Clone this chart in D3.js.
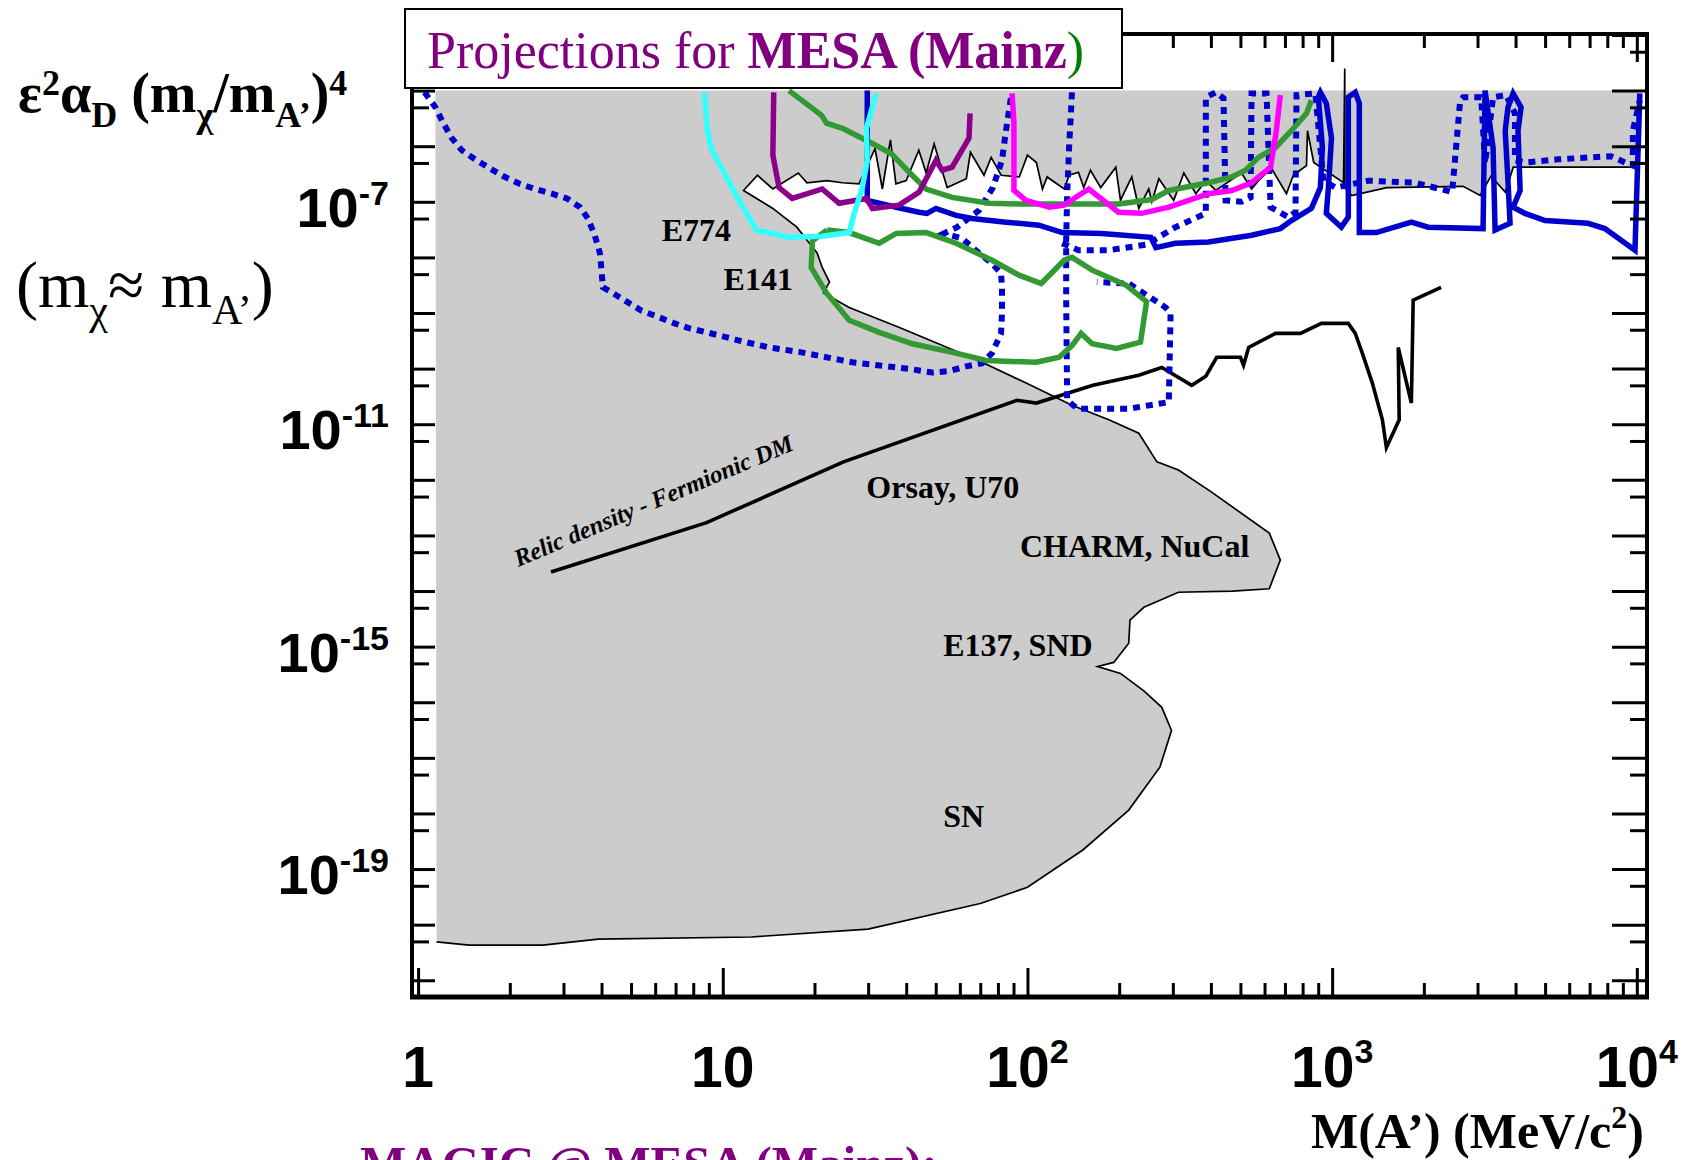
<!DOCTYPE html>
<html>
<head>
<meta charset="utf-8">
<script src="https://cdn.jsdelivr.net/npm/d3@7"></script>
<style>
  body { margin: 0; background: #fff; }
  svg { display: block; }
  .serif { font-family: "Liberation Serif", "Times New Roman", serif; }
  .sans { font-family: "Liberation Sans", Arial, Helvetica, sans-serif; }
</style>
</head>
<body>
<svg id="chart" width="1682" height="1160"></svg>
<script>
// ---- data: [mass in MeV/c^2, eps^2 alpha_D (m_chi/m_A')^4] ----
var xMajor = [1, 10, 100, 1000, 10000];
var xTickBase = ['1', '10', '10', '10', '10'];
var xTickExp = ['', '', '2', '3', '4'];

var yMajor = [1e-21, 1e-20, 1e-19, 1e-18, 1e-17, 1e-16, 1e-15, 1e-14, 1e-13,
              1e-12, 1e-11, 1e-10, 1e-9, 1e-8, 1e-7, 1e-6, 1e-5, 1e-4];
var yMinor = [5e-22, 5e-21, 5e-20, 5e-19, 5e-18, 5e-17, 5e-16, 5e-15, 5e-14,
              5e-13, 5e-12, 5e-11, 5e-10, 5e-9, 5e-8, 5e-7, 5e-6, 5e-5];
var yLabelValues = [1e-7, 1e-11, 1e-15, 1e-19];
var yLabelExp = ['-7', '-11', '-15', '-19'];

// existing limits (grey area), traced from the right edge going left and down
var excludedTop = [[1.14, 1e-5], [10070, 1e-5]];
var excludedBoundary = [
  [10070, 4.2e-7], [3930, 4.2e-7], [3700, 1.5e-7], [3320, 2.9e-7], [3060, 1.3e-7],
  [2690, 1.9e-7], [1510, 1.8e-7], [1160, 1.3e-7], [1100, 1.8e-7], [1100, 2.5e-5],
  [1090, 2.2e-7], [870, 5.1e-7], [830, 1.9e-6], [824, 4.5e-7], [746, 3.0e-7],
  [708, 1.4e-7], [632, 4.0e-7], [573, 2.4e-7], [544, 1.7e-7], [504, 3.3e-7],
  [415, 1.6e-7], [385, 2.4e-7], [357, 1.4e-7], [326, 3.3e-7], [302, 1.06e-7],
  [270, 2.6e-7], [256, 1.0e-7], [250, 1.7e-7], [232, 7.6e-8], [220, 2.8e-7],
  [202, 1.06e-7], [195, 4.2e-7], [174, 1.8e-7], [161, 3.7e-7], [153, 1.8e-7],
  [147, 3.4e-7], [137, 3.0e-7], [132, 1.7e-7], [116, 2.8e-7], [112, 1.7e-7],
  [107, 5.1e-7], [100, 6.9e-7], [94, 2.8e-7], [82, 3.0e-7], [76, 6.3e-7],
  [72, 3.0e-7], [65, 7.8e-7], [63, 2.6e-7], [54.5, 1.8e-7], [49.4, 1.1e-6],
  [46.5, 3.3e-7], [44, 8.5e-7], [40, 2.4e-7], [37, 2.1e-7], [35.5, 1.3e-6],
  [33.4, 1.7e-7], [31.6, 9.1e-7], [28, 2.1e-7], [24.7, 2.2e-7], [22, 2.4e-7],
  [18.9, 2.2e-7], [17.7, 3.3e-7], [14.6, 1.7e-7], [13, 3.0e-7], [11.7, 1.6e-7],
  [14.6, 7.6e-8], [17.5, 3.5e-8], [20.4, 1.2e-8], [21.2, 6.6e-9], [22.4, 3.6e-9],
  [21.4, 2.3e-9], [26, 1.26e-9], [38, 5.5e-10], [51, 2.8e-10], [69, 1.4e-10],
  [99, 5.5e-11], [140, 2.2e-11], [185, 1.2e-11], [232, 6.9e-12], [266, 2.1e-12],
  [313, 1.5e-12], [399, 6.2e-13], [622, 1.1e-13], [676, 3.6e-14], [622, 1.1e-14],
  [471, 1.0e-14], [313, 9.5e-15], [282, 7.4e-15], [241, 5.1e-15], [217, 3.0e-15],
  [215, 1.15e-15], [192, 5.2e-16], [170, 4.4e-16], [202, 3.3e-16], [241, 1.6e-16],
  [276, 8.1e-17], [297, 3.1e-17], [272, 6.8e-18], [215, 1.15e-18], [152, 2.2e-19],
  [100, 4.7e-20], [70, 2.4e-20], [30, 8.3e-21], [12.4, 6.0e-21], [3.9, 5.5e-21],
  [2.57, 4.3e-21], [1.47, 4.3e-21], [1.15, 4.9e-21]
];

var relicDensity = [
  [2.73, 2.2e-14], [8.85, 1.7e-13], [24.9, 2.1e-12], [92.4, 2.7e-11], [107, 2.4e-11],
  [164, 5.0e-11], [232, 7.6e-11], [276, 1.05e-10], [346, 5.0e-11], [385, 7.3e-11],
  [418, 1.6e-10], [500, 1.6e-10], [512, 1.15e-10], [532, 2.4e-10], [652, 4.3e-10],
  [787, 4.3e-10], [922, 6.5e-10], [1130, 6.5e-10], [1191, 4.3e-10], [1256, 1.9e-10],
  [1355, 5.5e-11], [1462, 1.2e-11], [1507, 3.8e-12], [1660, 1.2e-11], [1648, 2.4e-10],
  [1820, 2.4e-11], [1845, 1.7e-9], [2278, 2.9e-9]
];

var dashedBlueA = [
  [1.05, 9.3e-6], [1.14, 5.0e-6], [1.21, 2.6e-6], [1.29, 1.4e-6], [1.39, 8.5e-7],
  [1.54, 5.8e-7], [1.72, 4.0e-7], [1.90, 2.9e-7], [2.16, 2.1e-7], [2.42, 1.7e-7],
  [2.75, 1.4e-7], [3.08, 1.15e-7], [3.40, 8.0e-8], [3.61, 5.0e-8], [3.80, 2.5e-8],
  [3.95, 1.2e-8], [4.0, 5.9e-9], [4.04, 2.9e-9], [4.35, 2.3e-9], [4.84, 1.6e-9],
  [5.42, 1.1e-9], [6.21, 8.3e-10], [6.95, 6.5e-10], [7.78, 5.3e-10], [8.85, 4.5e-10],
  [10, 3.8e-10], [11.3, 3.2e-10], [14.2, 2.4e-10], [17.8, 2.0e-10], [21.9, 1.6e-10],
  [26.6, 1.3e-10], [34.4, 1.1e-10], [41.9, 9.7e-11], [48.7, 8.5e-11], [55.3, 9.0e-11],
  [62.9, 1.1e-10], [71, 1.25e-10], [76.5, 1.9e-10], [81.9, 4.3e-10], [82.5, 9.8e-10],
  [82.5, 2.9e-9], [81.9, 5.2e-9], [76.5, 7.8e-9], [69.3, 1.2e-8], [61, 2.2e-8],
  [53.2, 2.7e-8], [58.8, 3.5e-8], [69.3, 7.0e-8], [77, 1.8e-7], [82.5, 5.6e-7],
  [85, 1.9e-6], [88.3, 7.6e-6]
];
var dashedBlueB = [
  [140, 9.3e-6], [137, 9.5e-7], [135, 1.4e-7], [134, 2.0e-8], [134, 1.7e-9],
  [135, 2.7e-11], [146, 1.9e-11], [215, 1.9e-11], [291, 2.5e-11], [295, 9.8e-10],
  [284, 1.26e-9], [215, 3.4e-9], [169, 3.6e-9]
];
var dashedBlueC = [
  [130, 1.8e-8], [147, 1.35e-8], [185, 1.35e-8], [246, 1.7e-8], [306, 3.5e-8],
  [385, 6.2e-8], [385, 7.6e-6], [415, 9.3e-6], [440, 7.3e-6], [447, 1.06e-7],
  [504, 1.0e-7], [540, 1.2e-7], [544, 8.9e-6], [609, 8.9e-6], [628, 8.0e-8],
  [719, 5.3e-8], [758, 6.5e-8], [764, 8.3e-6], [881, 8.9e-6], [936, 2.4e-7],
  [1025, 1.8e-7], [1315, 2.4e-7], [1875, 2.2e-7], [2477, 1.5e-7], [2632, 6.7e-6],
  [2692, 7.6e-6], [3084, 7.6e-6], [3176, 4.9e-7], [3374, 7.6e-6], [3724, 8.3e-6],
  [3981, 3.9e-6], [3981, 5.6e-7], [4295, 5.1e-7], [5508, 5.8e-7], [7063, 6.3e-7],
  [8222, 6.6e-7], [9141, 5.1e-7], [9705, 4.5e-7], [9705, 1.9e-6], [10230, 6.7e-6]
];

var solidBlue = [
  [29.8, 1.0e-5], [29.8, 1.06e-7], [37.1, 8.0e-8], [44.1, 6.5e-8], [46.8, 6.2e-8],
  [50.1, 7.6e-8], [58.3, 5.7e-8], [65.8, 5.0e-8], [85, 4.3e-8], [109, 3.8e-8],
  [130, 2.8e-8], [175, 2.7e-8], [254, 2.3e-8], [264, 1.5e-8], [306, 1.8e-8],
  [393, 1.9e-8], [544, 2.5e-8], [676, 3.3e-8], [735, 4.6e-8], [855, 7.6e-8],
  [915, 1.8e-7], [929, 9.5e-7], [901, 7.6e-6], [915, 9.3e-6], [957, 5.9e-6],
  [995, 1.4e-6], [972, 1.8e-7], [957, 6.2e-8], [1072, 3.5e-8], [1130, 5.3e-8],
  [1130, 7.6e-6], [1191, 9.3e-6], [1228, 5.9e-6], [1228, 2.8e-8], [1396, 2.8e-8],
  [1820, 4.3e-8], [2067, 3.5e-8], [3129, 3.3e-8], [3176, 1.0e-5], [3374, 9.5e-7],
  [3426, 3.1e-8], [3837, 4.1e-8], [3776, 2.4e-7], [3698, 1.9e-6], [3776, 5.0e-6],
  [3926, 8.9e-6], [4169, 5.0e-6], [4074, 1.9e-6], [4140, 1.6e-7], [3926, 8.0e-8],
  [4295, 6.2e-8], [5000, 4.6e-8], [6918, 4.1e-8], [7852, 3.3e-8], [9862, 1.35e-8],
  [10230, 8.9e-6]
];

var cyanCurve = [
  [8.7, 9.3e-6], [8.9, 1.9e-6], [9.2, 8.5e-7], [10, 3.7e-7], [11.3, 1.06e-7],
  [12.9, 3.1e-8], [16.5, 2.3e-8], [21.2, 2.4e-8], [26, 2.8e-8], [27, 6.2e-8],
  [28.7, 1.8e-7], [29.8, 5.6e-7], [29.6, 2.1e-6], [31.9, 8.9e-6]
];

var purpleCurve = [
  [14.7, 9.3e-6], [14.6, 6.9e-7], [15.3, 1.8e-7], [16.9, 1.15e-7], [21.2, 1.7e-7],
  [24.1, 9.4e-8], [29.6, 1.15e-7], [31, 7.6e-8], [37.9, 8.7e-8], [44.1, 1.5e-7],
  [50.1, 5.6e-7], [52.5, 3.7e-7], [56.6, 4.2e-7], [64.3, 1.4e-6], [64.8, 3.9e-6]
];

var greenUpper = [
  [16.5, 1.0e-5], [21.1, 3.6e-6], [21.9, 2.6e-6], [24.7, 2.1e-6], [30.2, 1.2e-6],
  [35.7, 7.4e-7], [40.9, 3.4e-7], [46.5, 1.7e-7], [56.6, 1.2e-7], [74.8, 9.4e-8],
  [95.9, 9.1e-8], [199, 9.1e-8], [256, 1.1e-7], [291, 1.6e-7], [393, 2.2e-7],
  [468, 2.8e-7], [520, 3.7e-7], [573, 6.3e-7], [652, 9.5e-7], [735, 1.9e-6],
  [824, 3.9e-6], [855, 6.7e-6]
];

var greenLoop = [
  [22, 3.1e-8], [26, 2.8e-8], [32.6, 1.8e-8], [37.1, 2.7e-8], [46.5, 2.8e-8],
  [58.3, 1.8e-8], [76.5, 8.9e-9], [93.8, 4.8e-9], [111, 3.4e-9], [132, 8.9e-9],
  [140, 1.0e-8], [163, 5.9e-9], [210, 3.2e-9], [246, 1.6e-9], [235, 3.0e-10],
  [196, 2.3e-10], [163, 2.8e-10], [150, 4.3e-10], [140, 2.6e-10], [127, 1.6e-10],
  [107, 1.3e-10], [73.1, 1.4e-10], [58.3, 1.9e-10], [41.9, 2.8e-10], [32.6, 4.5e-10],
  [26, 7.4e-10], [21.9, 2.3e-9], [19.5, 6.6e-9], [19.7, 2.0e-8], [22, 3.1e-8]
];

var magentaCurve = [
  [89, 8.9e-6], [90.3, 2.6e-6], [90.3, 1.6e-7], [98.9, 1.06e-7], [118, 8.0e-8],
  [132, 8.7e-8], [147, 1.3e-7], [159, 1.7e-7], [199, 6.5e-8], [237, 6.2e-8],
  [291, 8.0e-8], [393, 1.4e-7], [468, 1.6e-7], [544, 2.2e-7], [628, 4.2e-7],
  [656, 1.9e-6], [676, 8.3e-6]
];

var regionNames = ['E774', 'E141', 'Orsay, U70', 'CHARM, NuCal', 'E137, SND', 'SN'];
var regionAt = [[6.3, 2.0e-8], [10.06, 2.6e-9], [29.6, 4.8e-13], [94.5, 4.1e-14], [52.9, 6.9e-16], [52.9, 5.6e-19]];
var relicLabel = 'Relic density - Fermionic DM';
var relicLabelAt = [2.13, 2.7e-14];

// ---- scales ----
var padLeft = 412, padRight = 1647, padTop = 35, padBottom = 997;

var x = d3.scaleLog().domain([0.955, 10800]).range([padLeft, padRight]);
var y = d3.scaleLog().domain([5e-22, 1e-4]).range([padBottom, padTop]);

var svg = d3.select('#chart');

svg.append('defs').append('clipPath')
    .attr('id', 'plotClip')
    .append('rect')
    .attr('x', padLeft).attr('y', padTop)
    .attr('width', padRight - padLeft).attr('height', padBottom - padTop);

var plot = svg.append('g').attr('clip-path', 'url(#plotClip)');

var line = d3.line()
    .x(d => x(d[0]))
    .y(d => y(d[1]));

// grey excluded region
plot.append('path')
    .attr('d', line(excludedTop.concat(excludedBoundary)) + 'Z')
    .attr('fill', '#cccccc')
    .attr('stroke', 'none');

plot.append('path')
    .attr('d', line(excludedBoundary))
    .attr('fill', 'none')
    .attr('stroke', '#000')
    .attr('stroke-width', 1.7)
    .attr('stroke-linejoin', 'miter');

plot.append('path')
    .attr('d', line(relicDensity))
    .attr('fill', 'none')
    .attr('stroke', '#000')
    .attr('stroke-width', 3.6);

var dashed = [dashedBlueA, dashedBlueB, dashedBlueC];
plot.selectAll('.dashed')
    .data(dashed)
    .enter()
    .append('path')
    .classed('dashed', true)
    .attr('d', d => line(d))
    .attr('fill', 'none')
    .attr('stroke', '#0000cc')
    .attr('stroke-width', 6)
    .attr('stroke-dasharray', '7,6');

var curves = [
    {pts: greenUpper, color: '#339933'},
    {pts: greenLoop, color: '#339933'},
    {pts: solidBlue, color: '#0000cc'},
    {pts: magentaCurve, color: '#ff00ff'},
    {pts: purpleCurve, color: '#8b008b'},
    {pts: cyanCurve, color: '#33ffff'}
];
plot.selectAll('.curve')
    .data(curves)
    .enter()
    .append('path')
    .classed('curve', true)
    .attr('d', d => line(d.pts))
    .attr('fill', 'none')
    .attr('stroke', d => d.color)
    .attr('stroke-width', 5.5)
    .attr('stroke-linejoin', 'miter')
    .attr('stroke-miterlimit', 3);

// region labels
plot.selectAll('.region')
    .data(regionNames)
    .enter()
    .append('text')
    .attr('class', 'serif')
    .attr('x', (d, i) => x(regionAt[i][0]))
    .attr('y', (d, i) => y(regionAt[i][1]))
    .attr('font-size', 32)
    .attr('font-weight', 'bold')
    .text(d => d);

plot.append('text')
    .attr('class', 'serif')
    .attr('transform', 'translate(' + x(relicLabelAt[0]) + ',' + y(relicLabelAt[1]) + ') rotate(-23)')
    .attr('font-size', 24.5)
    .attr('font-weight', 'bold')
    .attr('font-style', 'italic')
    .text(relicLabel);

// ---- axes (ticks inside the frame) ----
function styleAxis(g) {
    g.select('.domain').remove();
    g.selectAll('.tick line').attr('stroke', '#000').attr('stroke-width', 3);
}
var xMinor = x.ticks().filter(v => xMajor.indexOf(v) < 0);

svg.append('g').attr('transform', 'translate(0,' + padBottom + ')')
    .call(d3.axisTop(x).tickValues(xMajor).tickSize(29).tickFormat(''))
    .call(styleAxis);
svg.append('g').attr('transform', 'translate(0,' + padBottom + ')')
    .call(d3.axisTop(x).tickValues(xMinor).tickSize(14).tickFormat(''))
    .call(styleAxis);
svg.append('g').attr('transform', 'translate(0,' + padTop + ')')
    .call(d3.axisBottom(x).tickValues(xMajor).tickSize(27).tickFormat(''))
    .call(styleAxis);
svg.append('g').attr('transform', 'translate(0,' + padTop + ')')
    .call(d3.axisBottom(x).tickValues(xMinor).tickSize(13).tickFormat(''))
    .call(styleAxis);
svg.append('g').attr('transform', 'translate(' + padLeft + ',0)')
    .call(d3.axisRight(y).tickValues(yMajor).tickSize(23).tickFormat(''))
    .call(styleAxis);
svg.append('g').attr('transform', 'translate(' + padLeft + ',0)')
    .call(d3.axisRight(y).tickValues(yMinor).tickSize(17).tickFormat(''))
    .call(styleAxis);
svg.append('g').attr('transform', 'translate(' + padRight + ',0)')
    .call(d3.axisLeft(y).tickValues(yMajor).tickSize(35).tickFormat(''))
    .call(styleAxis);
svg.append('g').attr('transform', 'translate(' + padRight + ',0)')
    .call(d3.axisLeft(y).tickValues(yMinor).tickSize(17).tickFormat(''))
    .call(styleAxis);

svg.append('rect')
    .attr('x', padLeft).attr('y', padTop - 1)
    .attr('width', padRight - padLeft).attr('height', padBottom - padTop + 1)
    .attr('fill', 'none')
    .attr('stroke', '#000')
    .attr('stroke-width', 4);
svg.append('line')
    .attr('x1', padLeft - 2).attr('x2', padRight + 2)
    .attr('y1', padBottom).attr('y2', padBottom)
    .attr('stroke', '#000').attr('stroke-width', 5);

// tick labels
var xl = svg.selectAll('.xlabel')
    .data(xMajor)
    .enter()
    .append('text')
    .attr('class', 'sans')
    .attr('x', d => x(d))
    .attr('y', 1087)
    .attr('text-anchor', 'middle')
    .attr('font-size', 57)
    .attr('font-weight', 'bold');
xl.append('tspan').text((d, i) => xTickBase[i]);
xl.append('tspan')
    .attr('dy', -24)
    .attr('font-size', 34)
    .text((d, i) => xTickExp[i]);

var yl = svg.selectAll('.ylabel')
    .data(yLabelValues)
    .enter()
    .append('text')
    .attr('class', 'sans')
    .attr('x', 389)
    .attr('y', d => y(d) + 25)
    .attr('text-anchor', 'end')
    .attr('font-size', 56)
    .attr('font-weight', 'bold');
yl.append('tspan').text('10');
yl.append('tspan')
    .attr('dy', -22)
    .attr('font-size', 34)
    .text((d, i) => yLabelExp[i]);

// axis titles
var yt = svg.append('text')
    .attr('class', 'serif')
    .attr('x', 18).attr('y', 112)
    .attr('font-size', 56)
    .attr('font-weight', 'bold');
yt.append('tspan').text('\u03b5');
yt.append('tspan').attr('dy', -17).attr('font-size', 36).text('2');
yt.append('tspan').attr('dy', 17).text('\u03b1');
yt.append('tspan').attr('dy', 15).attr('font-size', 36).text('D');
yt.append('tspan').attr('dy', -15).text(' (m');
yt.append('tspan').attr('dy', 15).attr('font-size', 36).text('\u03c7');
yt.append('tspan').attr('dy', -15).text('/m');
yt.append('tspan').attr('dy', 15).attr('font-size', 36).text('A\u2019');
yt.append('tspan').attr('dy', -15).text(')');
yt.append('tspan').attr('dy', -17).attr('font-size', 36).text('4');

var yt2 = svg.append('text')
    .attr('class', 'serif')
    .attr('x', 16).attr('y', 307)
    .attr('font-size', 66);
yt2.append('tspan').text('(m');
yt2.append('tspan').attr('dy', 17).attr('font-size', 42).text('\u03c7');
yt2.append('tspan').attr('dy', -17).text('\u2248 m');
yt2.append('tspan').attr('dy', 17).attr('font-size', 42).text('A\u2019');
yt2.append('tspan').attr('dy', -17).text(')');

var xt = svg.append('text')
    .attr('class', 'serif')
    .attr('x', 1311).attr('y', 1148)
    .attr('font-size', 50)
    .attr('font-weight', 'bold');
xt.append('tspan').text('M(A\u2019) (MeV/c');
xt.append('tspan').attr('dy', -20).attr('font-size', 32).text('2');
xt.append('tspan').attr('dy', 20).text(')');

svg.append('text')
    .attr('class', 'serif')
    .attr('x', 360).attr('y', 1180)
    .attr('font-size', 49)
    .attr('font-weight', 'bold')
    .attr('fill', '#800080')
    .text('MAGIC @ MESA (Mainz):');

// legend box
svg.append('rect')
    .attr('x', 405).attr('y', 9)
    .attr('width', 717).attr('height', 79)
    .attr('fill', '#fff')
    .attr('stroke', '#000')
    .attr('stroke-width', 2);
var lg = svg.append('text')
    .attr('class', 'serif')
    .attr('x', 427).attr('y', 68)
    .attr('font-size', 52)
    .attr('fill', '#800080');
lg.append('tspan').text('Projections for ');
lg.append('tspan').attr('font-weight', 'bold').text('MESA (Mainz');
lg.append('tspan').attr('fill', '#008000').text(')');
</script>
</body>
</html>
